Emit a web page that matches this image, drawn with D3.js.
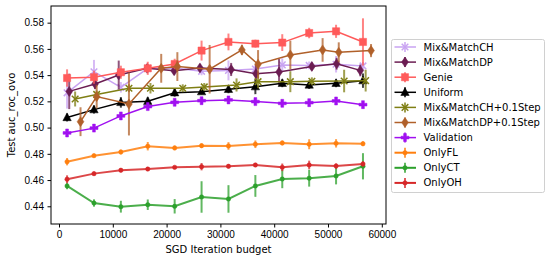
<!DOCTYPE html>
<html>
<head>
<meta charset="utf-8">
<script src="https://cdn.jsdelivr.net/npm/d3@7"></script>
<style>
	body { margin: 0; background: #fff; }
	svg { font-family: "DejaVu Sans", sans-serif; }
	.tick text { font-size: 10px; fill: #000; }
</style>
</head>
<body>
<div id="chart"></div>
<script>
;(function(){
	var w = 551;
	var h = 262;
	var margin = {left: 51, right: 165, top: 6, bottom: 38};

	// x positions (SGD iteration budget)
	var budget     = [1500, 6500, 11500, 16500, 21500, 26500, 31500, 36500, 41500, 46500, 51500, 56500];
	var budgetDP   = [1900, 6700, 11100, 16400, 21400, 26200, 32000, 36600, 40900, 47000, 51600, 56000];
	var budgetCH01 = [3000, 7000, 13000, 17000, 23000, 27000, 33000, 37000, 43000, 47000, 53000, 57000];
	var budgetDP01 = [4000, 7000, 13000, 19000, 22000, 28000, 34000, 37000, 43000, 49000, 52000, 58000];

	// mean / error per series
	var mmchMean = [0.5265, 0.5426, 0.5307, 0.5452, 0.5455, 0.5429, 0.5436, 0.5447, 0.5478, 0.5474, 0.5483, 0.5470];
	var mmchErr  = [0.012, 0.009, 0.004, 0.003, 0.003, 0.003, 0.0076, 0.003, 0.005, 0.003, 0.0063, 0.003];
	var mmdpMean = [0.5276, 0.5333, 0.5401, 0.5452, 0.5433, 0.5455, 0.5443, 0.5411, 0.5424, 0.5466, 0.5487, 0.5436];
	var mmdpErr  = [0.0135, 0.004, 0.011, 0.003, 0.003, 0.003, 0.005, 0.007, 0.010, 0.003, 0.0045, 0.0045];
	var genieMean = [0.5378, 0.5384, 0.5422, 0.5452, 0.5485, 0.5587, 0.5653, 0.5640, 0.5648, 0.5721, 0.5734, 0.5653];
	var genieErr  = [0.0066, 0.005, 0.005, 0.005, 0.004, 0.0076, 0.0064, 0.003, 0.0064, 0.004, 0.005, 0.018];
	var uniMean = [0.5077, 0.5137, 0.5192, 0.5201, 0.5266, 0.5274, 0.5292, 0.5312, 0.5338, 0.5325, 0.5338, 0.5358];
	var uniErr  = [0.003, 0.003, 0.004, 0.003, 0.003, 0.002, 0.003, 0.0057, 0.003, 0.003, 0.003, 0.0055];
	var ch01Mean = [0.5218, 0.5253, 0.5300, 0.5300, 0.5300, 0.5310, 0.5325, 0.5350, 0.5350, 0.5353, 0.5355, 0.5358];
	var ch01Err  = [0.0057, 0.003, 0.003, 0.004, 0.003, 0.003, 0.005, 0.005, 0.008, 0.003, 0.0086, 0.0083];
	var dp01Mean = [0.5045, 0.5236, 0.5180, 0.5452, 0.5465, 0.5445, 0.5592, 0.5483, 0.5554, 0.5592, 0.5574, 0.5587];
	var dp01Err  = [0.011, 0.009, 0.024, 0.011, 0.011, 0.0185, 0.004, 0.0108, 0.0108, 0.009, 0.0076, 0.005];
	var valMean = [0.4959, 0.4996, 0.5089, 0.5160, 0.5193, 0.5205, 0.5211, 0.5198, 0.5185, 0.5190, 0.5203, 0.5175];
	var valErr  = [0.0015, 0.0015, 0.002, 0.0015, 0.0012, 0.0012, 0.0012, 0.0012, 0.0012, 0.0012, 0.0015, 0.0012];
	var flMean = [0.4740, 0.4786, 0.4814, 0.4858, 0.4845, 0.4862, 0.4860, 0.4873, 0.4883, 0.4873, 0.4880, 0.4877];
	var flErr  = [0.0028, 0.0015, 0.0018, 0.0032, 0.0018, 0.0018, 0.0029, 0.0029, 0.0018, 0.0038, 0.0032, 0.0018];
	var ctMean = [0.4555, 0.4425, 0.4397, 0.4412, 0.4400, 0.4471, 0.4456, 0.4555, 0.4608, 0.4614, 0.4631, 0.4705];
	var ctErr  = [0.0025, 0.0028, 0.0045, 0.004, 0.0055, 0.012, 0.0105, 0.0083, 0.007, 0.0064, 0.0064, 0.010];
	var ohMean = [0.4606, 0.4649, 0.4675, 0.4684, 0.4697, 0.4702, 0.4705, 0.4715, 0.4697, 0.4715, 0.4707, 0.4723];
	var ohErr  = [0.003, 0.0015, 0.0015, 0.0012, 0.0012, 0.0028, 0.0015, 0.0015, 0.0029, 0.0033, 0.002, 0.002];

	var names   = ["Mix&MatchCH", "Mix&MatchDP", "Genie", "Uniform", "Mix&MatchCH+0.1Step", "Mix&MatchDP+0.1Step", "Validation", "OnlyFL", "OnlyCT", "OnlyOH"];
	var colors  = ["#c9a3f2", "#6b1d52", "#ff5a5a", "#000000", "#7f7f14", "#b0602a", "#a010f0", "#ff7f0e", "#2ca02c", "#d62728"];
	var markers = ["x", "d", "s", "^", "x", "d", "P", ".", ".", "."];
	var xsList  = [budget, budgetDP, budget, budget, budgetCH01, budgetDP01, budget, budget, budget, budget];
	var means   = [mmchMean, mmdpMean, genieMean, uniMean, ch01Mean, dp01Mean, valMean, flMean, ctMean, ohMean];
	var errs    = [mmchErr, mmdpErr, genieErr, uniErr, ch01Err, dp01Err, valErr, flErr, ctErr, ohErr];

	var xticks = [0, 10000, 20000, 30000, 40000, 50000, 60000];
	var yticks = [0.44, 0.46, 0.48, 0.50, 0.52, 0.54, 0.56, 0.58];

	var series = names.map(function(n, i){
		return {
			name: n, color: colors[i], marker: markers[i],
			points: xsList[i].map(function(x, j){ return {x: x, y: means[i][j], e: errs[i][j]}; })
		};
	});

	var xrange = [margin.left, w - margin.right];
	var yrange = [h - margin.bottom, margin.top];

	var xscale = d3.scaleLinear().domain([-1487, 60781]).range(xrange);
	var yscale = d3.scaleLinear().domain([0.4265, 0.5927]).range(yrange);

	var svg = d3.select("#chart").append("svg")
		.attr("width", w)
		.attr("height", h);

	// marker path generator, centred at 0,0
	function markerPath(m){
		switch(m){
			case "s": return "M-3.6,-3.6H3.6V3.6H-3.6Z";
			case "^": return "M0,-4.6L4.2,3.2L-4.2,3.2Z";
			case "d": return "M0,-5L3.4,0L0,5L-3.4,0Z";
			case "P": return "M-1.4,-4H1.4V-1.4H4V1.4H1.4V4H-1.4V1.4H-4V-1.4H-1.4Z";
			case "x": return "M-3.3,-3.3L3.3,3.3M-3.3,3.3L3.3,-3.3";
			default: return "M-2.2,0A2.2,2.2 0 1,0 2.2,0A2.2,2.2 0 1,0 -2.2,0Z";
		}
	}

	// axes
	var xaxis = d3.axisBottom(xscale).tickValues(xticks).tickSize(3.5).tickPadding(3.5).tickFormat(d3.format("d"));
	var yaxis = d3.axisLeft(yscale).tickValues(yticks).tickSize(3.5).tickPadding(3.5).tickFormat(d3.format(".2f"));

	svg.append("g")
		.attr("transform", "translate(0," + yrange[0] + ")")
		.call(xaxis)
		.call(function(g){ g.select(".domain").remove(); });

	svg.append("g")
		.attr("transform", "translate(" + xrange[0] + ",0)")
		.call(yaxis)
		.call(function(g){ g.select(".domain").remove(); });

	var plot = svg.append("g");

	// draw series in order, later ones on top
	series.forEach(function(s){
		var g = plot.append("g");
		var only = s.marker == ".";

		var line = d3.line()
			.x(function(d){ return xscale(d.x); })
			.y(function(d){ return yscale(d.y); });

		g.append("path")
			.datum(s.points)
			.attr("fill", "none")
			.attr("stroke", s.color)
			.attr("stroke-width", only ? 2 : 1.5)
			.attr("stroke-opacity", only ? 0.85 : 1)
			.attr("d", line);

		g.selectAll("line.err")
			.data(s.points)
			.enter().append("line")
				.attr("class", "err")
				.attr("x1", function(d){ return xscale(d.x); })
				.attr("x2", function(d){ return xscale(d.x); })
				.attr("y1", function(d){ return yscale(d.y - d.e); })
				.attr("y2", function(d){ return yscale(d.y + d.e); })
				.attr("stroke", s.color)
				.attr("stroke-width", 2)
				.attr("stroke-opacity", 0.75);

		g.selectAll("path.mk")
			.data(s.points)
			.enter().append("path")
				.attr("class", "mk")
				.attr("transform", function(d){ return "translate(" + xscale(d.x) + "," + yscale(d.y) + ")"; })
				.attr("d", markerPath(s.marker))
				.attr("fill", s.marker == "x" ? "none" : s.color)
				.attr("stroke", s.color)
				.attr("stroke-width", s.marker == "x" ? 1.5 : 0.5);
	});

	// frame
	svg.append("rect")
		.attr("x", xrange[0])
		.attr("y", yrange[1])
		.attr("width", xrange[1] - xrange[0])
		.attr("height", yrange[0] - yrange[1])
		.attr("fill", "none")
		.attr("stroke", "#000")
		.attr("stroke-width", 1);

	// axis labels
	svg.append("text")
		.attr("x", (xrange[0] + xrange[1]) / 2)
		.attr("y", 253)
		.attr("text-anchor", "middle")
		.style("font-size", "10px")
		.text("SGD Iteration budget");

	svg.append("text")
		.attr("transform", "translate(15," + ((yrange[0] + yrange[1]) / 2) + ") rotate(-90)")
		.attr("text-anchor", "middle")
		.style("font-size", "10px")
		.text("Test auc_roc_ovo");

	// legend
	var lx = 391.5, ly = 39.5, rowh = 15.1;
	var legend = svg.append("g");
	legend.append("rect")
		.attr("x", lx)
		.attr("y", ly)
		.attr("width", 153)
		.attr("height", 153)
		.attr("rx", 2)
		.attr("fill", "#fff")
		.attr("fill-opacity", 0.8)
		.attr("stroke", "#d0d0d0")
		.attr("stroke-width", 1);

	var items = legend.selectAll("g.item")
		.data(series)
		.enter().append("g")
			.attr("class", "item")
			.attr("transform", function(d, i){ return "translate(" + lx + "," + (ly + 7.5 + i * rowh) + ")"; });

	items.append("line")
		.attr("x1", 3).attr("x2", 24.5)
		.attr("stroke", function(d){ return d.color; })
		.attr("stroke-width", function(d){ return d.marker == "." ? 2 : 1.5; });
	items.append("line")
		.attr("x1", 13.5).attr("x2", 13.5)
		.attr("y1", -5).attr("y2", 5)
		.attr("stroke", function(d){ return d.color; })
		.attr("stroke-width", 2)
		.attr("stroke-opacity", 0.75);
	items.append("path")
		.attr("transform", "translate(13.5,0)")
		.attr("d", function(d){ return markerPath(d.marker); })
		.attr("fill", function(d){ return d.marker == "x" ? "none" : d.color; })
		.attr("stroke", function(d){ return d.color; })
		.attr("stroke-width", function(d){ return d.marker == "x" ? 1.5 : 0.5; });
	items.append("text")
		.attr("x", 32)
		.attr("dy", "0.35em")
		.style("font-size", "10px")
		.text(function(d){ return d.name; });

})();
</script>
</body>
</html>
